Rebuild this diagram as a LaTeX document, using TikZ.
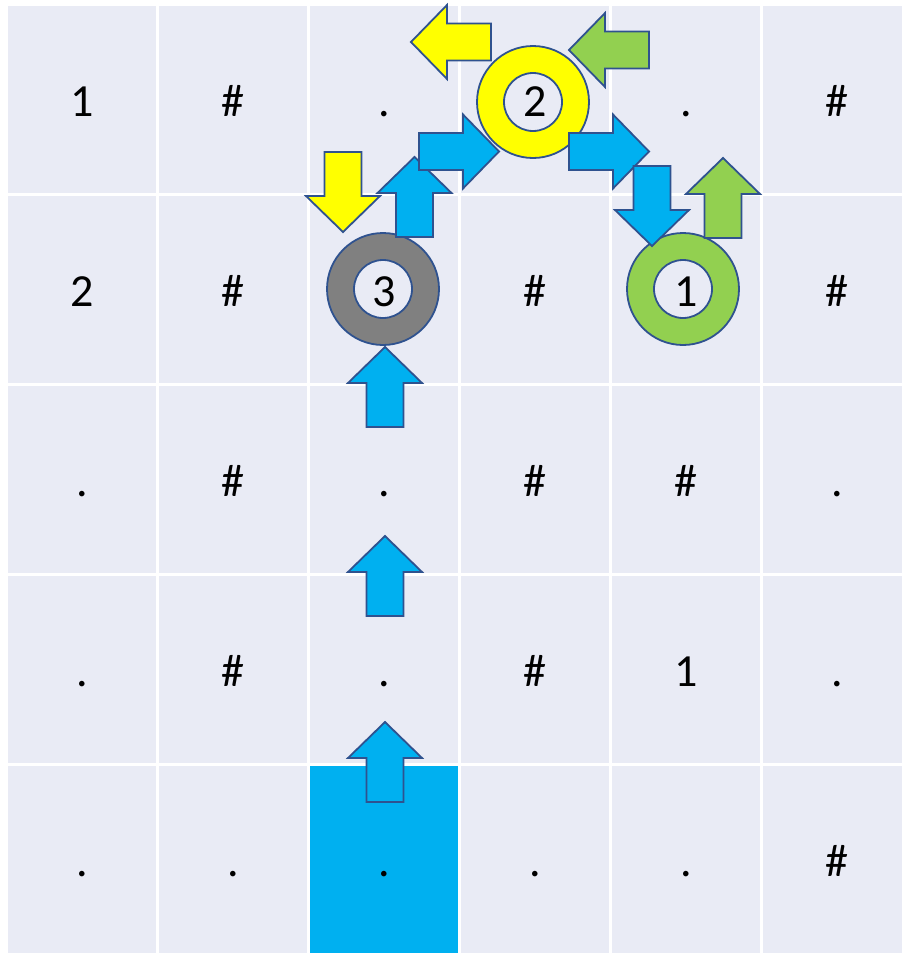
\documentclass[tikz,border=0pt]{standalone}
\usepackage{fontspec}
\setmainfont{Carlito}
\definecolor{gridbg}{HTML}{E9EBF5}
\definecolor{robotblue}{HTML}{00B0F0}
\definecolor{stepyellow}{HTML}{FFFF00}
\definecolor{stepgreen}{HTML}{92D050}
\definecolor{stepgrey}{HTML}{808080}
\definecolor{edgeblue}{HTML}{2F528F}

% block arrow: tail x, tail y, angle, fill
\newcommand{\blockarrow}[4]{%
  \begin{scope}[shift={(#1,#2)},rotate=#3]
    \draw[edgeblue,line width=1.8pt,fill=#4,line join=miter]
      (0,-18.5) -- (44,-18.5) -- (44,-37) -- (80,0) -- (44,37) -- (44,18.5) -- (0,18.5) -- cycle;
  \end{scope}}

% ring with a hole: x, y, fill
\newcommand{\ring}[3]{%
  \draw[edgeblue,line width=1.8pt,fill=#3,even odd rule]
    (#1,#2) circle[radius=56pt] (#1,#2) circle[radius=29pt];}

\begin{document}
\begin{tikzpicture}[x=1pt,y=-1pt,
    cellbox/.style={white,line width=3pt,fill=gridbg},
    celltxt/.style={anchor=base,inner sep=0pt,font=\fontsize{46}{52}\selectfont}]
    \useasboundingbox (0,0) rectangle (902,953);
    \fill[white] (0,0) rectangle (902,953);
    % the board
    \foreach \r in {0,...,4}
      \foreach \c in {0,...,5}
        \draw[cellbox] (6.5+151*\c,4.5+190*\r) rectangle +(151,190);
    \draw[cellbox,fill=robotblue] (308.5,764.5) rectangle +(151,190);
    % cell texts
    \foreach \row [count=\r from 0] in {{1,\#,.,2,.,\#},{2,\#,3,\#,1,\#},{.,\#,.,\#,\#,.},{.,\#,.,\#,1,.},{.,.,.,.,.,\#}}
      \foreach \cell [count=\c from 0] in \row
        \node[celltxt] (t-\r-\c) at (82+151*\c,116+190*\r) {\cell};
    % rings
    \ring{533}{102}{stepyellow}
    \ring{383}{289}{stepgrey}
    \ring{683}{289}{stepgreen}
    % moves
    \blockarrow{491}{42}{180}{stepyellow}
    \blockarrow{649}{50}{180}{stepgreen}
    \blockarrow{343}{152}{-90}{stepyellow}
    \blockarrow{414.5}{237}{90}{robotblue}
    \blockarrow{419}{151.5}{0}{robotblue}
    \blockarrow{569}{151.5}{0}{robotblue}
    \blockarrow{652}{166}{-90}{robotblue}
    \blockarrow{723}{238}{90}{stepgreen}
    \blockarrow{385}{427}{90}{robotblue}
    \blockarrow{385}{616}{90}{robotblue}
    \blockarrow{385}{802}{90}{robotblue}
  \end{tikzpicture}
\end{document}
